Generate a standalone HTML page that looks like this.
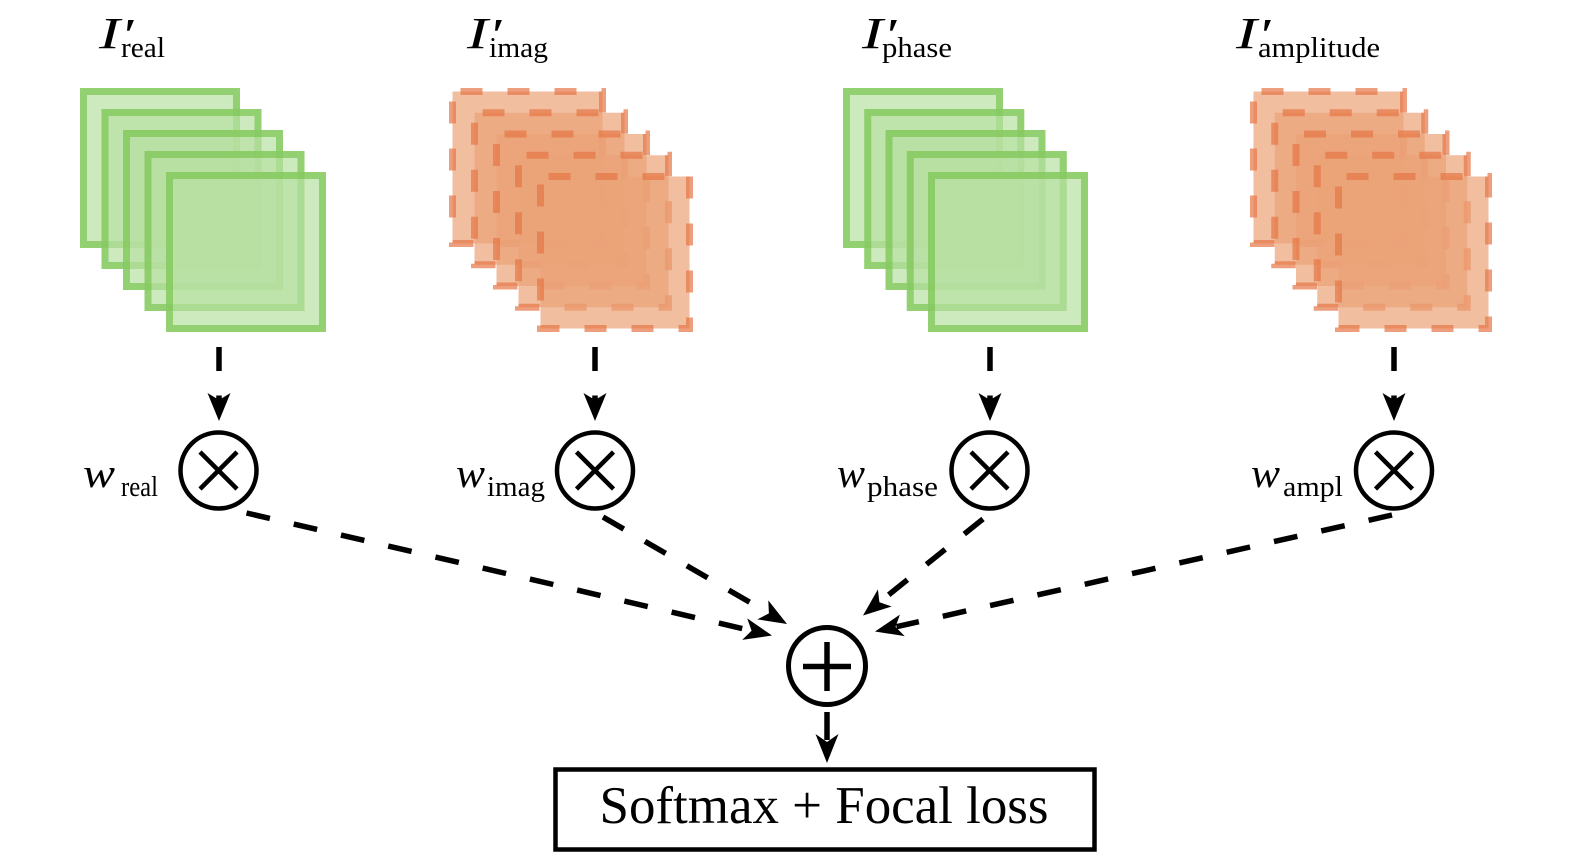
<!DOCTYPE html>
<html>
<head>
<meta charset="utf-8">
<style>
  html, body { margin: 0; padding: 0; background: #ffffff; }
  body { width: 1575px; height: 856px; overflow: hidden; }
  svg { display: block; }
  text { font-family: "Liberation Serif", "DejaVu Serif", serif; fill: #000; }
</style>
</head>
<body>
<svg width="1575" height="856" viewBox="0 0 1575 856" xmlns="http://www.w3.org/2000/svg">
  <rect x="0" y="0" width="1575" height="856" fill="#ffffff"/>

  <!-- ===== Green stack 1 (real) ===== -->
  <g>
    <rect x="80" y="88" width="160" height="160" fill="rgb(184,224,162)" fill-opacity="0.7"/>
    <rect x="83.5" y="91.5" width="153" height="153" fill="none" stroke="rgb(121,197,80)" stroke-opacity="0.7" stroke-width="7"/>
    <rect x="101.5" y="109" width="160" height="160" fill="rgb(184,224,162)" fill-opacity="0.7"/>
    <rect x="105" y="112.5" width="153" height="153" fill="none" stroke="rgb(121,197,80)" stroke-opacity="0.7" stroke-width="7"/>
    <rect x="123" y="130" width="160" height="160" fill="rgb(184,224,162)" fill-opacity="0.7"/>
    <rect x="126.5" y="133.5" width="153" height="153" fill="none" stroke="rgb(121,197,80)" stroke-opacity="0.7" stroke-width="7"/>
    <rect x="144.5" y="151" width="160" height="160" fill="rgb(184,224,162)" fill-opacity="0.7"/>
    <rect x="148" y="154.5" width="153" height="153" fill="none" stroke="rgb(121,197,80)" stroke-opacity="0.7" stroke-width="7"/>
    <rect x="166" y="172" width="160" height="160" fill="rgb(184,224,162)" fill-opacity="0.7"/>
    <rect x="169.5" y="175.5" width="153" height="153" fill="none" stroke="rgb(121,197,80)" stroke-opacity="0.7" stroke-width="7"/>
  </g>

  <!-- ===== Green stack 3 (phase) ===== -->
  <g>
    <rect x="843" y="88" width="160" height="160" fill="rgb(184,224,162)" fill-opacity="0.7"/>
    <rect x="846.5" y="91.5" width="153" height="153" fill="none" stroke="rgb(121,197,80)" stroke-opacity="0.7" stroke-width="7"/>
    <rect x="864.25" y="109" width="160" height="160" fill="rgb(184,224,162)" fill-opacity="0.7"/>
    <rect x="867.75" y="112.5" width="153" height="153" fill="none" stroke="rgb(121,197,80)" stroke-opacity="0.7" stroke-width="7"/>
    <rect x="885.5" y="130" width="160" height="160" fill="rgb(184,224,162)" fill-opacity="0.7"/>
    <rect x="889" y="133.5" width="153" height="153" fill="none" stroke="rgb(121,197,80)" stroke-opacity="0.7" stroke-width="7"/>
    <rect x="906.75" y="151" width="160" height="160" fill="rgb(184,224,162)" fill-opacity="0.7"/>
    <rect x="910.25" y="154.5" width="153" height="153" fill="none" stroke="rgb(121,197,80)" stroke-opacity="0.7" stroke-width="7"/>
    <rect x="928" y="172" width="160" height="160" fill="rgb(184,224,162)" fill-opacity="0.7"/>
    <rect x="931.5" y="175.5" width="153" height="153" fill="none" stroke="rgb(121,197,80)" stroke-opacity="0.7" stroke-width="7"/>
  </g>

  <!-- ===== Orange stack 2 (imag) ===== -->
  <g fill="rgb(235,162,119)" fill-opacity="0.7" stroke="rgb(230,118,70)" stroke-opacity="0.7" stroke-width="7" stroke-dasharray="22 25" stroke-dashoffset="-8">
    <rect x="452.5" y="91.5" width="150" height="152"/>
    <rect x="474.5" y="112.75" width="150" height="152"/>
    <rect x="496.5" y="134" width="150" height="152"/>
    <rect x="518.5" y="155.25" width="150" height="152"/>
    <rect x="540.5" y="176.5" width="149" height="152"/>
  </g>

  <!-- ===== Orange stack 4 (amplitude) ===== -->
  <g fill="rgb(235,162,119)" fill-opacity="0.7" stroke="rgb(230,118,70)" stroke-opacity="0.7" stroke-width="7" stroke-dasharray="22 25" stroke-dashoffset="-8">
    <rect x="1253.5" y="91.5" width="150" height="152"/>
    <rect x="1274.75" y="112.75" width="150" height="152"/>
    <rect x="1296" y="134" width="150" height="152"/>
    <rect x="1317.25" y="155.25" width="150" height="152"/>
    <rect x="1338.5" y="176.5" width="150" height="152"/>
  </g>

  <!-- ===== Top labels ===== -->
  <text x="99" y="48" font-size="44" font-style="italic" textLength="21" lengthAdjust="spacingAndGlyphs">I</text>
  <text x="124" y="50" font-size="46" font-weight="bold">′</text>
  <text x="121" y="57" font-size="29" textLength="44" lengthAdjust="spacingAndGlyphs">real</text>

  <text x="467" y="48" font-size="44" font-style="italic" textLength="21" lengthAdjust="spacingAndGlyphs">I</text>
  <text x="492" y="50" font-size="46" font-weight="bold">′</text>
  <text x="489" y="57" font-size="29" textLength="59" lengthAdjust="spacingAndGlyphs">imag</text>

  <text x="862" y="48" font-size="44" font-style="italic" textLength="21" lengthAdjust="spacingAndGlyphs">I</text>
  <text x="887" y="50" font-size="46" font-weight="bold">′</text>
  <text x="882" y="57" font-size="29" textLength="70" lengthAdjust="spacingAndGlyphs">phase</text>

  <text x="1236" y="48" font-size="44" font-style="italic" textLength="21" lengthAdjust="spacingAndGlyphs">I</text>
  <text x="1261" y="50" font-size="46" font-weight="bold">′</text>
  <text x="1258" y="57" font-size="29" textLength="122" lengthAdjust="spacingAndGlyphs">amplitude</text>

  <!-- ===== Vertical dashed arrows from stacks to multipliers ===== -->
  <g stroke="#000" stroke-width="5.5" fill="none" stroke-dasharray="24 24.5">
    <line x1="219" y1="347" x2="219" y2="400"/>
    <line x1="595" y1="347" x2="595" y2="400"/>
    <line x1="990" y1="347" x2="990" y2="400"/>
    <line x1="1394" y1="347" x2="1394" y2="400"/>
  </g>
  <g fill="#000">
    <polygon points="219,421 207.5,393 219,400 230.5,393"/>
    <polygon points="595,421 583.5,393 595,400 606.5,393"/>
    <polygon points="990,421 978.5,393 990,400 1001.5,393"/>
    <polygon points="1394,421 1382.5,393 1394,400 1405.5,393"/>
  </g>

  <!-- ===== Multiplier circles ===== -->
  <g stroke="#000" stroke-width="4.5" fill="#fff">
    <circle cx="218.5" cy="470.5" r="38"/>
    <circle cx="595" cy="470.5" r="38"/>
    <circle cx="989.5" cy="470.5" r="38"/>
    <circle cx="1394" cy="470.5" r="38"/>
  </g>
  <g stroke="#000" stroke-width="4.5" fill="none">
    <line x1="200" y1="452" x2="237" y2="489"/><line x1="237" y1="452" x2="200" y2="489"/>
    <line x1="576.5" y1="452" x2="613.5" y2="489"/><line x1="613.5" y1="452" x2="576.5" y2="489"/>
    <line x1="971" y1="452" x2="1008" y2="489"/><line x1="1008" y1="452" x2="971" y2="489"/>
    <line x1="1375.5" y1="452" x2="1412.5" y2="489"/><line x1="1412.5" y1="452" x2="1375.5" y2="489"/>
  </g>

  <!-- ===== Weight labels ===== -->
  <text x="83" y="487" font-size="41" font-style="italic" textLength="32" lengthAdjust="spacingAndGlyphs">w</text>
  <text x="121" y="496" font-size="28" textLength="37" lengthAdjust="spacingAndGlyphs">real</text>

  <text x="456" y="487" font-size="41" font-style="italic" textLength="29" lengthAdjust="spacingAndGlyphs">w</text>
  <text x="487" y="496" font-size="28" textLength="58" lengthAdjust="spacingAndGlyphs">imag</text>

  <text x="837" y="487" font-size="41" font-style="italic" textLength="28" lengthAdjust="spacingAndGlyphs">w</text>
  <text x="867" y="496" font-size="28" textLength="71" lengthAdjust="spacingAndGlyphs">phase</text>

  <text x="1251" y="487" font-size="41" font-style="italic" textLength="29" lengthAdjust="spacingAndGlyphs">w</text>
  <text x="1283" y="496" font-size="28" textLength="60" lengthAdjust="spacingAndGlyphs">ampl</text>

  <!-- ===== Dashed connectors to sum ===== -->
  <g stroke="#000" stroke-width="5.5" fill="none" stroke-dasharray="24 24.5">
    <line x1="246.5" y1="513" x2="750.6" y2="630.5"/>
    <line x1="603" y1="517" x2="768" y2="612.9"/>
    <line x1="983" y1="519" x2="880.1" y2="601.7"/>
    <line x1="1392" y1="515" x2="896.5" y2="626.7"/>
  </g>
  <g fill="#000">
    <polygon points="772,635.5 742.2,639.9 751.6,630.7 747.2,618.4"/>
    <polygon points="787,624 757.3,619.4 768.9,613.4 768.3,600.4"/>
    <polygon points="863,615.5 877.9,589.4 879.4,602.3 891.7,606.5"/>
    <polygon points="875,631.5 899.9,614.6 895.5,626.9 904.7,636.1"/>
  </g>

  <!-- ===== Sum circle ===== -->
  <circle cx="827" cy="666" r="38.5" stroke="#000" stroke-width="5" fill="#fff"/>
  <g stroke="#000" stroke-width="5.5">
    <line x1="803" y1="666.5" x2="851" y2="666.5"/>
    <line x1="827" y1="642" x2="827" y2="691"/>
  </g>

  <!-- ===== Arrow to output box ===== -->
  <line x1="827" y1="712" x2="827" y2="740" stroke="#000" stroke-width="5.5"/>
  <polygon points="827,763 815.5,734 827,742 838.5,734" fill="#000"/>

  <!-- ===== Output box ===== -->
  <rect x="555.5" y="769.5" width="539" height="80" fill="#fff" stroke="#000" stroke-width="4.5"/>
  <text x="824" y="823" font-size="53" text-anchor="middle" textLength="449" lengthAdjust="spacingAndGlyphs">Softmax + Focal loss</text>
</svg>
</body>
</html>
